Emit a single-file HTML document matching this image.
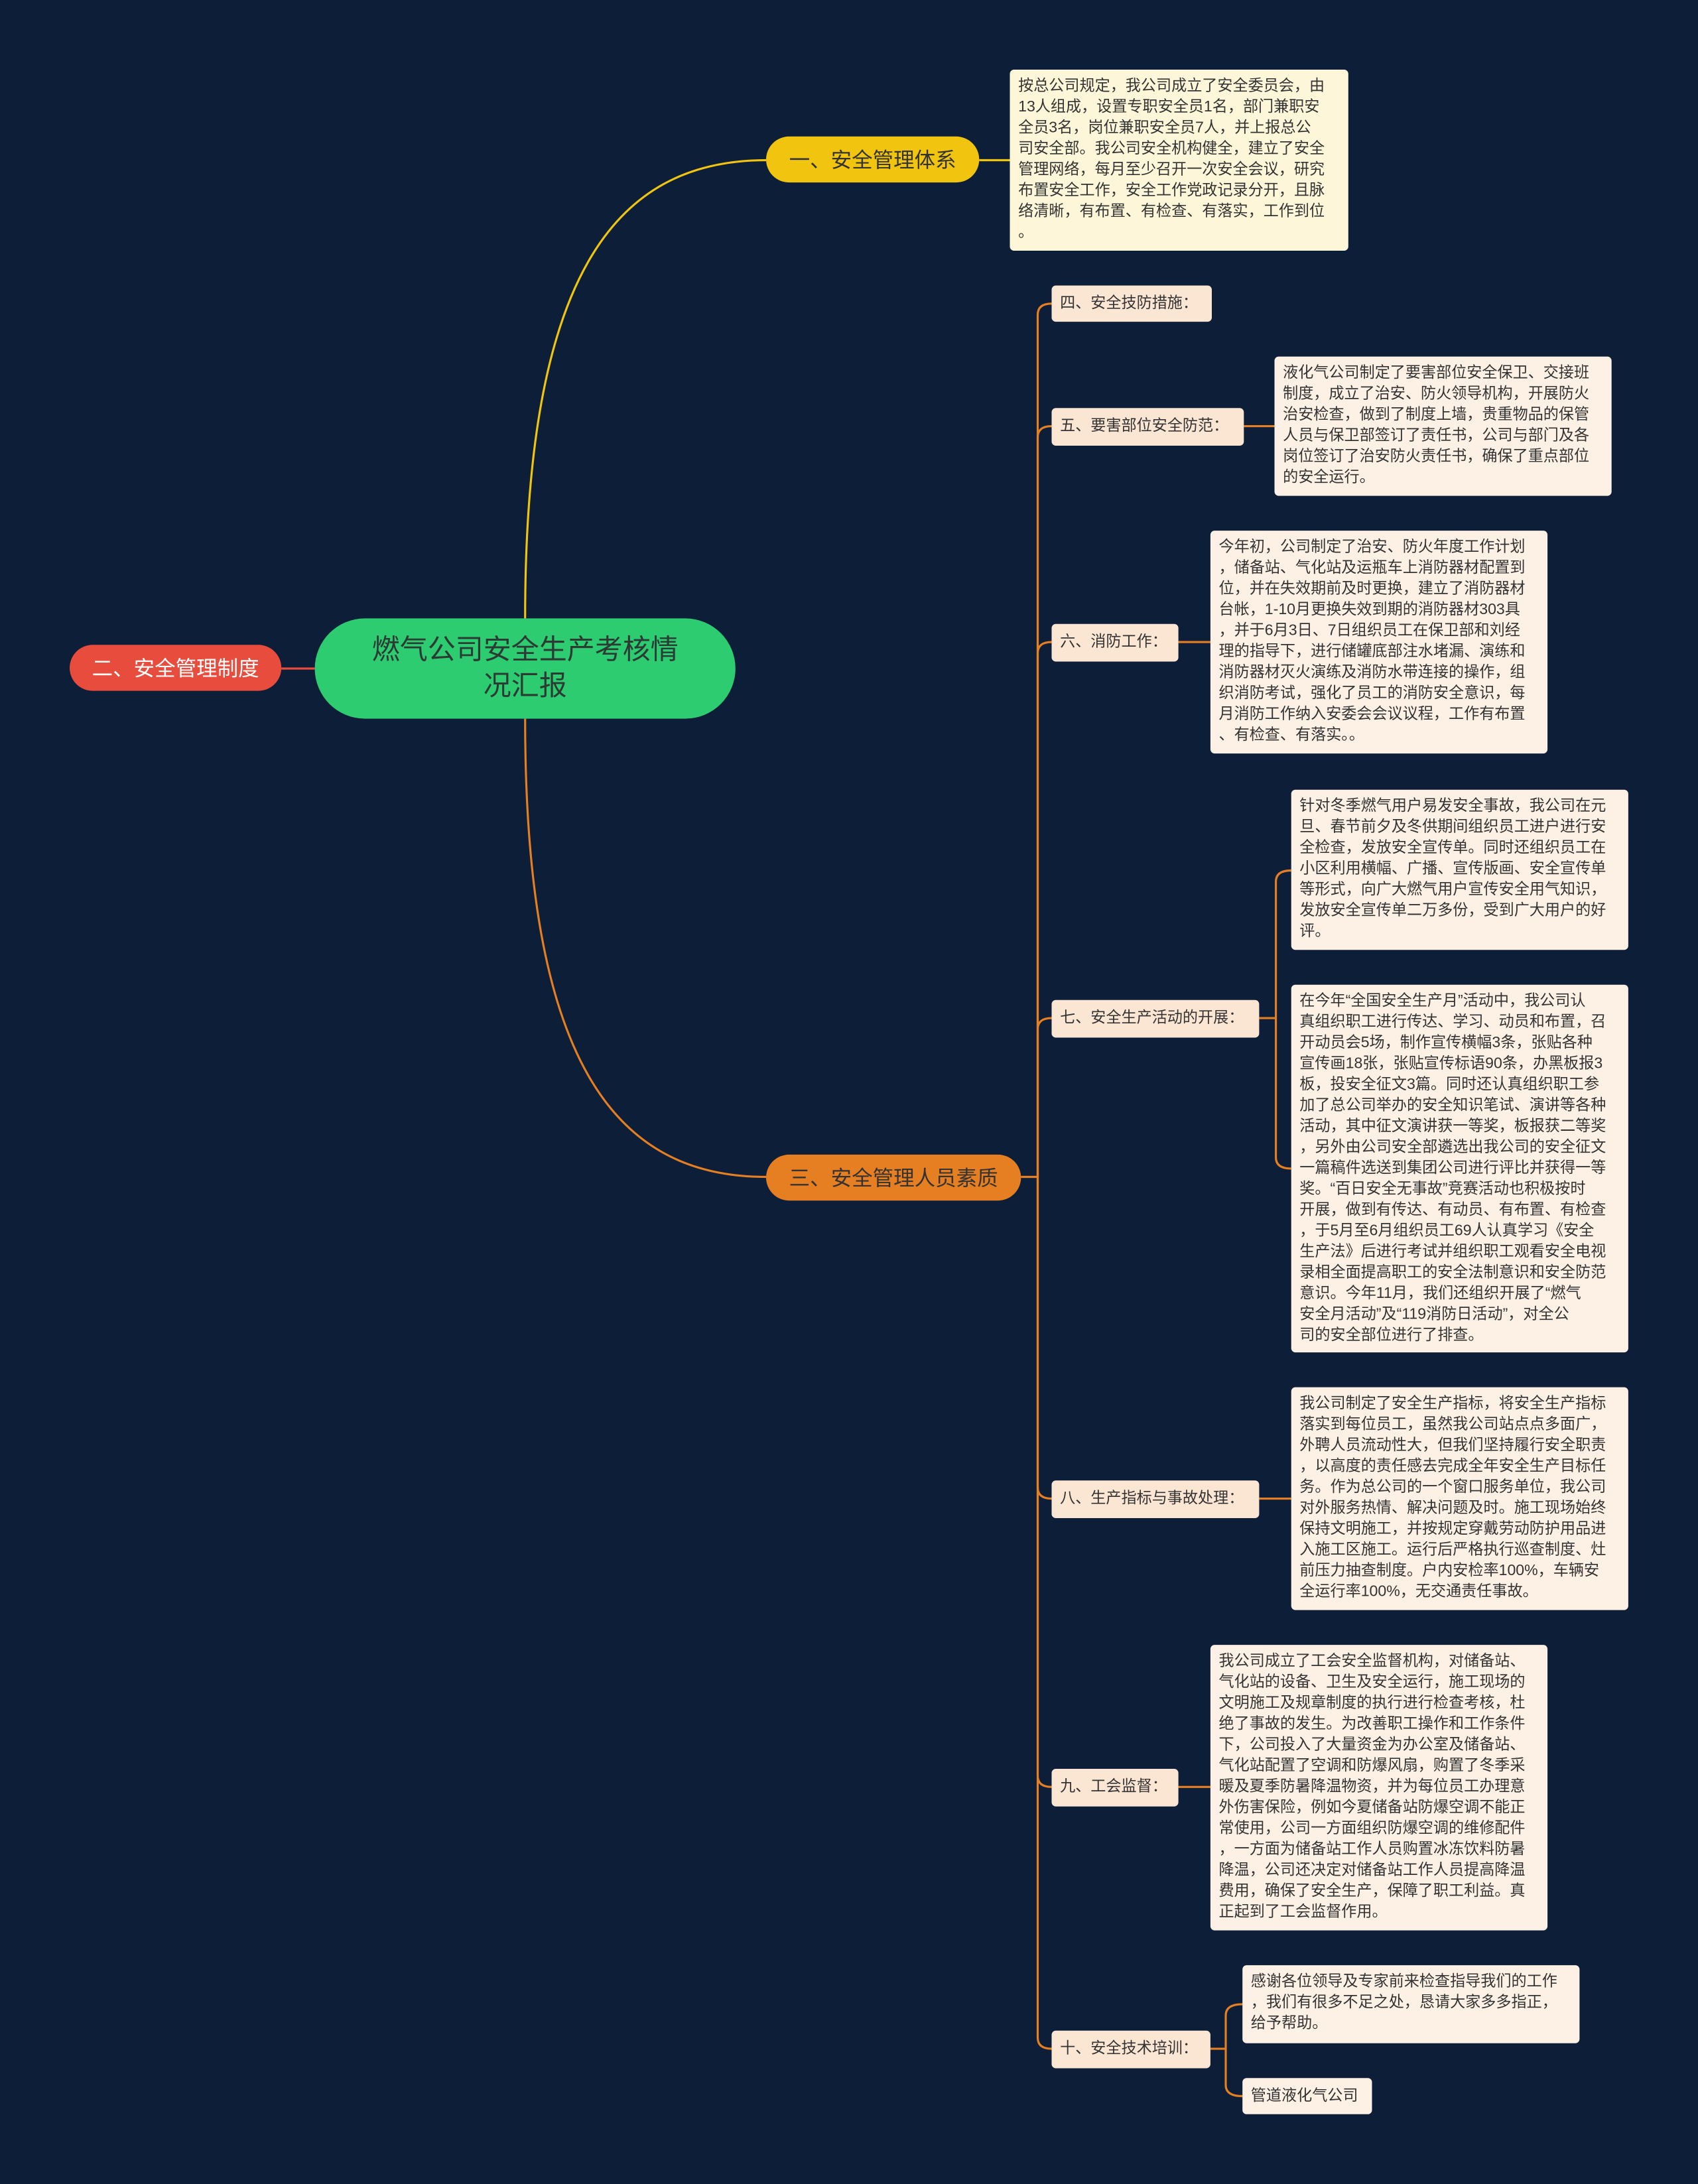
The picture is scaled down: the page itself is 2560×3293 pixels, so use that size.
<!DOCTYPE html>
<html><head><meta charset="utf-8"><style>
html,body{margin:0;padding:0;background:#0c1e38;}
body{width:2560px;height:3292px;overflow:hidden;position:relative;}
#c{position:absolute;left:0;top:0;width:1219px;height:1568px;transform:scale(2.1);transform-origin:0 0;font-family:"Liberation Sans","Noto Sans CJK SC",sans-serif;}
.n{position:absolute;box-sizing:border-box;display:flex;align-items:center;justify-content:center;white-space:nowrap;}
.d{position:absolute;box-sizing:border-box;background:#fdf0e4;border-radius:3px;font-size:11px;line-height:15px;color:#333;padding:5px 5px 0 6px;white-space:nowrap;}
.k{position:absolute;box-sizing:border-box;background:#fbe6d4;border-radius:3px;font-size:11px;color:#333;padding:0 6px;line-height:26px;white-space:nowrap;}
svg{position:absolute;left:0;top:0;}
</style></head><body><div id="c">
<svg width="1219" height="1568" fill="none">
<path d="M377,444 C377,200 440,115 550,115" stroke="#f1c40f" stroke-width="1.5"/>
<path d="M377,516 C377,760 440,845 550,845" stroke="#e67e22" stroke-width="1.5"/>
<path d="M202,480 L226,480" stroke="#e74c3c" stroke-width="1.5"/>
<path d="M703,115 L725,115" stroke="#f1c40f" stroke-width="1.5"/>
<g stroke="#e67e22" stroke-width="1.5">
<path d="M733,845 L745,845"/>
<path d="M745,845 L745,226 Q745,218 755,218"/>
<path d="M745,845 L745,314 Q745,306 755,306"/>
<path d="M745,845 L745,469 Q745,461 755,461"/>
<path d="M745,845 L745,739 Q745,731 755,731"/>
<path d="M745,845 L745,1068 Q745,1076 755,1076"/>
<path d="M745,845 L745,1275 Q745,1283 755,1283"/>
<path d="M745,845 L745,1463 Q745,1471 755,1471"/>
<path d="M893,306 L915,306"/>
<path d="M846,461 L869,461"/>
<path d="M904,731 L916,731 M916,731 L916,633 Q916,625 927,625 M916,731 L916,831 Q916,839 927,839"/>
<path d="M904,1076 L927,1076"/>
<path d="M846,1283 L869,1283"/>
<path d="M869,1471 L880,1471 M880,1471 L880,1447 Q880,1439 892,1439 M880,1471 L880,1497 Q880,1505 892,1505"/>
</g>
</svg>
<div class="n" style="left:226px;top:444px;width:302px;height:72px;background:#2ecc71;border-radius:36px;font-size:20px;line-height:26px;color:#2b3a33;text-align:center;white-space:normal;padding:0 40px;">燃气公司安全生产考核情况汇报</div>
<div class="n" style="left:50px;top:463px;width:152px;height:33px;background:#e74c3c;border-radius:17px;font-size:15px;color:#fff;">二、安全管理制度</div>
<div class="n" style="left:550px;top:98px;width:153px;height:33px;background:#f1c40f;border-radius:17px;font-size:15px;color:#333;">一、安全管理体系</div>
<div class="n" style="left:550px;top:829px;width:183px;height:33px;background:#e67e22;border-radius:17px;font-size:15px;color:#333;">三、安全管理人员素质</div>
<div class="d" style="left:725px;top:50px;width:243px;height:130px;background:#fdf6d8;">按总公司规定，我公司成立了安全委员会，由<br>13人组成，设置专职安全员1名，部门兼职安<br>全员3名，岗位兼职安全员7人，并上报总公<br>司安全部。我公司安全机构健全，建立了安全<br>管理网络，每月至少召开一次安全会议，研究<br>布置安全工作，安全工作党政记录分开，且脉<br>络清晰，有布置、有检查、有落实，工作到位<br>。</div>
<div class="k" style="left:755px;top:205px;width:115px;height:26px;">四、安全技防措施：</div>
<div class="k" style="left:755px;top:293px;width:138px;height:27px;">五、要害部位安全防范：</div>
<div class="d" style="left:915px;top:256px;width:242px;height:100px;">液化气公司制定了要害部位安全保卫、交接班<br>制度，成立了治安、防火领导机构，开展防火<br>治安检查，做到了制度上墙，贵重物品的保管<br>人员与保卫部签订了责任书，公司与部门及各<br>岗位签订了治安防火责任书，确保了重点部位<br>的安全运行。</div>
<div class="k" style="left:755px;top:448px;width:91px;height:27px;">六、消防工作：</div>
<div class="d" style="left:869px;top:381px;width:242px;height:160px;">今年初，公司制定了治安、防火年度工作计划<br>，储备站、气化站及运瓶车上消防器材配置到<br>位，并在失效期前及时更换，建立了消防器材<br>台帐，1-10月更换失效到期的消防器材303具<br>，并于6月3日、7日组织员工在保卫部和刘经<br>理的指导下，进行储罐底部注水堵漏、演练和<br>消防器材灭火演练及消防水带连接的操作，组<br>织消防考试，强化了员工的消防安全意识，每<br>月消防工作纳入安委会会议议程，工作有布置<br>、有检查、有落实。。</div>
<div class="k" style="left:755px;top:718px;width:149px;height:27px;">七、安全生产活动的开展：</div>
<div class="d" style="left:927px;top:567px;width:242px;height:115px;">针对冬季燃气用户易发安全事故，我公司在元<br>旦、春节前夕及冬供期间组织员工进户进行安<br>全检查，发放安全宣传单。同时还组织员工在<br>小区利用横幅、广播、宣传版画、安全宣传单<br>等形式，向广大燃气用户宣传安全用气知识，<br>发放安全宣传单二万多份，受到广大用户的好<br>评。</div>
<div class="d" style="left:927px;top:707px;width:242px;height:264px;">在今年“全国安全生产月”活动中，我公司认<br>真组织职工进行传达、学习、动员和布置，召<br>开动员会5场，制作宣传横幅3条，张贴各种<br>宣传画18张，张贴宣传标语90条，办黑板报3<br>板，投安全征文3篇。同时还认真组织职工参<br>加了总公司举办的安全知识笔试、演讲等各种<br>活动，其中征文演讲获一等奖，板报获二等奖<br>，另外由公司安全部遴选出我公司的安全征文<br>一篇稿件选送到集团公司进行评比并获得一等<br>奖。“百日安全无事故”竞赛活动也积极按时<br>开展，做到有传达、有动员、有布置、有检查<br>，于5月至6月组织员工69人认真学习《安全<br>生产法》后进行考试并组织职工观看安全电视<br>录相全面提高职工的安全法制意识和安全防范<br>意识。今年11月，我们还组织开展了“燃气<br>安全月活动”及“119消防日活动”，对全公<br>司的安全部位进行了排查。</div>
<div class="k" style="left:755px;top:1063px;width:149px;height:27px;">八、生产指标与事故处理：</div>
<div class="d" style="left:927px;top:996px;width:242px;height:160px;">我公司制定了安全生产指标，将安全生产指标<br>落实到每位员工，虽然我公司站点点多面广，<br>外聘人员流动性大，但我们坚持履行安全职责<br>，以高度的责任感去完成全年安全生产目标任<br>务。作为总公司的一个窗口服务单位，我公司<br>对外服务热情、解决问题及时。施工现场始终<br>保持文明施工，并按规定穿戴劳动防护用品进<br>入施工区施工。运行后严格执行巡查制度、灶<br>前压力抽查制度。户内安检率100%，车辆安<br>全运行率100%，无交通责任事故。</div>
<div class="k" style="left:755px;top:1270px;width:91px;height:27px;">九、工会监督：</div>
<div class="d" style="left:869px;top:1181px;width:242px;height:205px;">我公司成立了工会安全监督机构，对储备站、<br>气化站的设备、卫生及安全运行，施工现场的<br>文明施工及规章制度的执行进行检查考核，杜<br>绝了事故的发生。为改善职工操作和工作条件<br>下，公司投入了大量资金为办公室及储备站、<br>气化站配置了空调和防爆风扇，购置了冬季采<br>暖及夏季防暑降温物资，并为每位员工办理意<br>外伤害保险，例如今夏储备站防爆空调不能正<br>常使用，公司一方面组织防爆空调的维修配件<br>，一方面为储备站工作人员购置冰冻饮料防暑<br>降温，公司还决定对储备站工作人员提高降温<br>费用，确保了安全生产，保障了职工利益。真<br>正起到了工会监督作用。</div>
<div class="k" style="left:755px;top:1458px;width:114px;height:27px;">十、安全技术培训：</div>
<div class="d" style="left:892px;top:1411px;width:242px;height:56px;">感谢各位领导及专家前来检查指导我们的工作<br>，我们有很多不足之处，恳请大家多多指正，<br>给予帮助。</div>
<div class="k" style="left:892px;top:1492px;width:93px;height:26px;background:#fdf0e4;">管道液化气公司</div>
</div></body></html>
